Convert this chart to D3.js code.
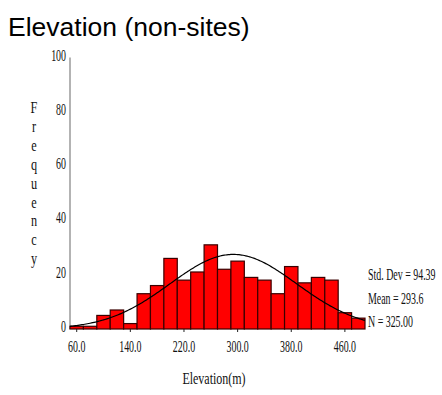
<!DOCTYPE html>
<html>
<head>
<meta charset="utf-8">
<script src="https://cdn.jsdelivr.net/npm/d3@7"></script>
<style>
body { margin: 0; background: #fff; }
</style>
</head>
<body>
<svg id="chart"></svg>
<script>
// bin centres (m) and counts
const binCenters = [60, 80, 100, 120, 140, 160, 180, 200, 220, 240, 260, 280, 300, 320, 340, 360, 380, 400, 420, 440, 460, 480];
const counts = [1, 1, 5, 7, 2, 13, 16, 26, 18, 21, 31, 22, 25, 19, 18, 13, 23, 17, 19, 18, 6, 4];
const xTicks = [60, 140, 220, 300, 380, 460];
const yTicks = [0, 20, 40, 60, 80, 100];
const stats = { sd: 94.39, mean: 293.6, n: 325 };
const statLabels = ["Std. Dev = 94.39", "Mean = 293.6", "N = 325.00"];
const binWidth = 20;

const width = 442, height = 395;
const svg = d3.select('#chart')
    .attr('width', width)
    .attr('height', height);

const x = d3.scaleLinear()
    .domain([50, 490])
    .range([70, 365]);

const y = d3.scaleLinear()
    .domain([0, 100])
    .range([329, 57.5]);

// narrow serif text like the original output
function narrowText(px, py, str, anchor, sx, size) {
    svg.append('text')
        .attr('transform', `translate(${px},${py}) scale(${sx || 0.62},1)`)
        .attr('text-anchor', anchor || 'start')
        .style('font-family', '"Liberation Serif", "Times New Roman", serif')
        .style('font-size', (size || 16) + 'px')
        .attr('fill', '#111')
        .text(str);
}

// title
svg.append('text')
    .attr('x', 8)
    .attr('y', 36)
    .style('font-family', '"Liberation Sans", Arial, sans-serif')
    .style('font-size', '26.5px')
    .attr('fill', '#000')
    .text('Elevation (non-sites)');

// y axis line
svg.append('line')
    .attr('x1', x(50)).attr('x2', x(50))
    .attr('y1', y(100)).attr('y2', y(0))
    .attr('stroke', '#808080')
    .attr('stroke-width', 1.2);

yTicks.forEach(v => narrowText(66, y(v) + 3, v, 'end'));

// y title, one letter per line
'Frequency'.split('').forEach((c, i) => narrowText(34, 113 + i * 18.9, c, 'middle', 0.72, 17));

// bars
svg.selectAll('rect.bar')
    .data(binCenters)
    .enter()
    .append('rect')
    .attr('class', 'bar')
    .attr('x', d => x(d - binWidth / 2))
    .attr('width', d => x(d + binWidth / 2) - x(d - binWidth / 2))
    .attr('y', (d, i) => y(counts[i]))
    .attr('height', (d, i) => y(0) - y(counts[i]))
    .attr('fill', '#ff0000')
    .attr('stroke', '#3a0000')
    .attr('stroke-width', 1.2);

// x ticks and labels
xTicks.forEach(v => {
    svg.append('line')
        .attr('x1', x(v)).attr('x2', x(v))
        .attr('y1', y(0)).attr('y2', y(0) + 3)
        .attr('stroke', '#222');
    narrowText(x(v), 352, v.toFixed(1), 'middle');
});

narrowText(214, 384, 'Elevation(m)', 'middle', 0.75);

// fitted normal curve
const curvePts = d3.range(50, 490.1, 2).map(v => {
    const z = (v - stats.mean) / stats.sd;
    return [v, stats.n * binWidth / (stats.sd * Math.sqrt(2 * Math.PI)) * Math.exp(-0.5 * z * z)];
});
const line = d3.line()
    .x(d => x(d[0]))
    .y(d => y(d[1]));
svg.append('path')
    .datum(curvePts)
    .attr('fill', 'none')
    .attr('stroke', '#000')
    .attr('stroke-width', 1.2)
    .attr('d', line);

// stats block
[280, 304, 327].forEach((py, i) => narrowText(368, py, statLabels[i], 'start'));
</script>
</body>
</html>
